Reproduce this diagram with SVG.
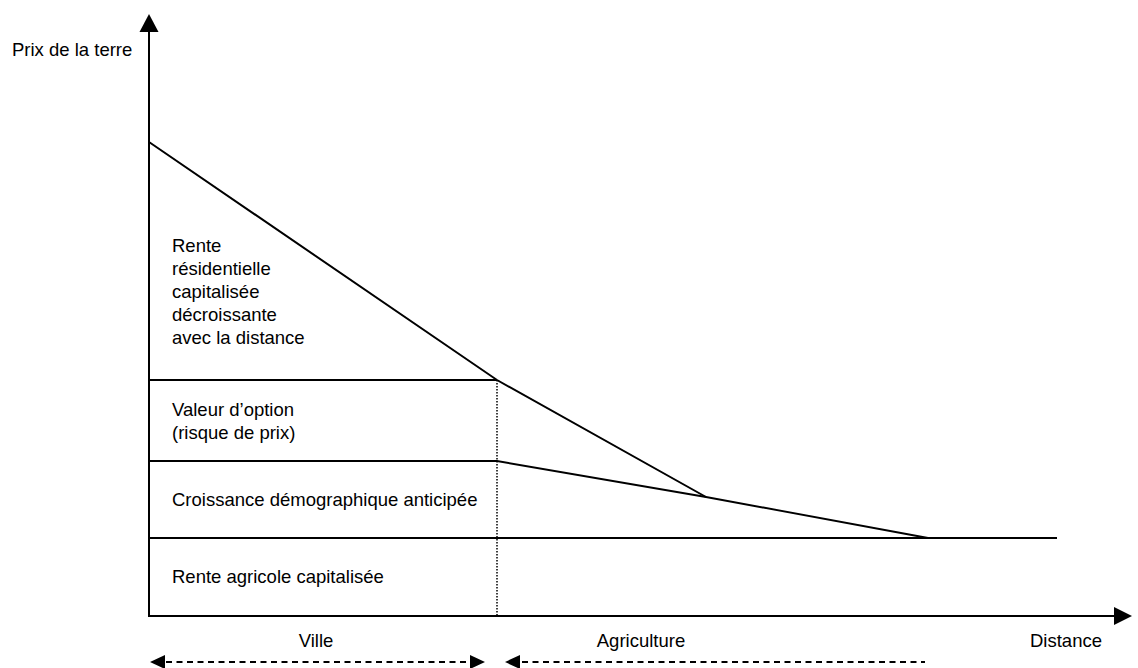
<svg xmlns="http://www.w3.org/2000/svg" width="1138" height="668" viewBox="0 0 1138 668">
<style>
text{font-family:"Liberation Sans",Arial,Helvetica,sans-serif;font-size:18.5px;fill:#000}
.ln{stroke:#000;stroke-width:2;fill:none;stroke-linejoin:miter}
.dot{stroke:#000;stroke-width:1.5;fill:none;stroke-dasharray:1.5 1.5}
.dash{stroke:#000;stroke-width:2;fill:none;stroke-dasharray:6 4.5}
.head{fill:#000;stroke:none}
</style>
<rect width="1138" height="668" fill="#fff"/>
<g id="axes">
<line class="ln" x1="149" y1="617" x2="149" y2="30"/>
<polygon class="head" points="149,14 139.5,32 158.5,32"/>
<line class="ln" x1="148" y1="616" x2="1117" y2="616"/>
<polygon class="head" points="1132,616 1114,607 1114,625"/>
<text id="y-label" x="12" y="56">Prix de la terre</text>
<text id="x-label" x="1030" y="647">Distance</text>
</g>
<g id="connectors">
<polyline class="ln" points="149,142 497,380 706,497"/>
<line class="ln" x1="149" y1="380" x2="497" y2="380"/>
<polyline class="ln" points="149,461 497,461 706,497 928,538"/>
<line class="ln" x1="149" y1="538" x2="1057" y2="538"/>
<line class="dot" x1="497" y1="380" x2="497" y2="616"/>
</g>
<g id="rente-residentielle">
<text x="172" y="252">Rente</text>
<text x="172" y="275">résidentielle</text>
<text x="172" y="298">capitalisée</text>
<text x="172" y="321">décroissante</text>
<text x="172" y="344">avec la distance</text>
</g>
<g id="valeur-option">
<text x="172" y="416">Valeur d’option</text>
<text x="172" y="439">(risque de prix)</text>
</g>
<g id="croissance">
<text x="172" y="506">Croissance démographique anticipée</text>
</g>
<g id="rente-agricole">
<text x="172" y="583">Rente agricole capitalisée</text>
</g>
<g id="ville">
<text x="316" y="647" text-anchor="middle">Ville</text>
<line class="dash" x1="166" y1="662" x2="469" y2="662"/>
<polygon class="head" points="150,662 165,655 165,669"/>
<polygon class="head" points="485,662 470,655 470,669"/>
</g>
<g id="agriculture">
<text x="641" y="647" text-anchor="middle">Agriculture</text>
<line class="dash" x1="522" y1="662" x2="925" y2="662"/>
<polygon class="head" points="505,662 520,655 520,669"/>
</g>
</svg>
